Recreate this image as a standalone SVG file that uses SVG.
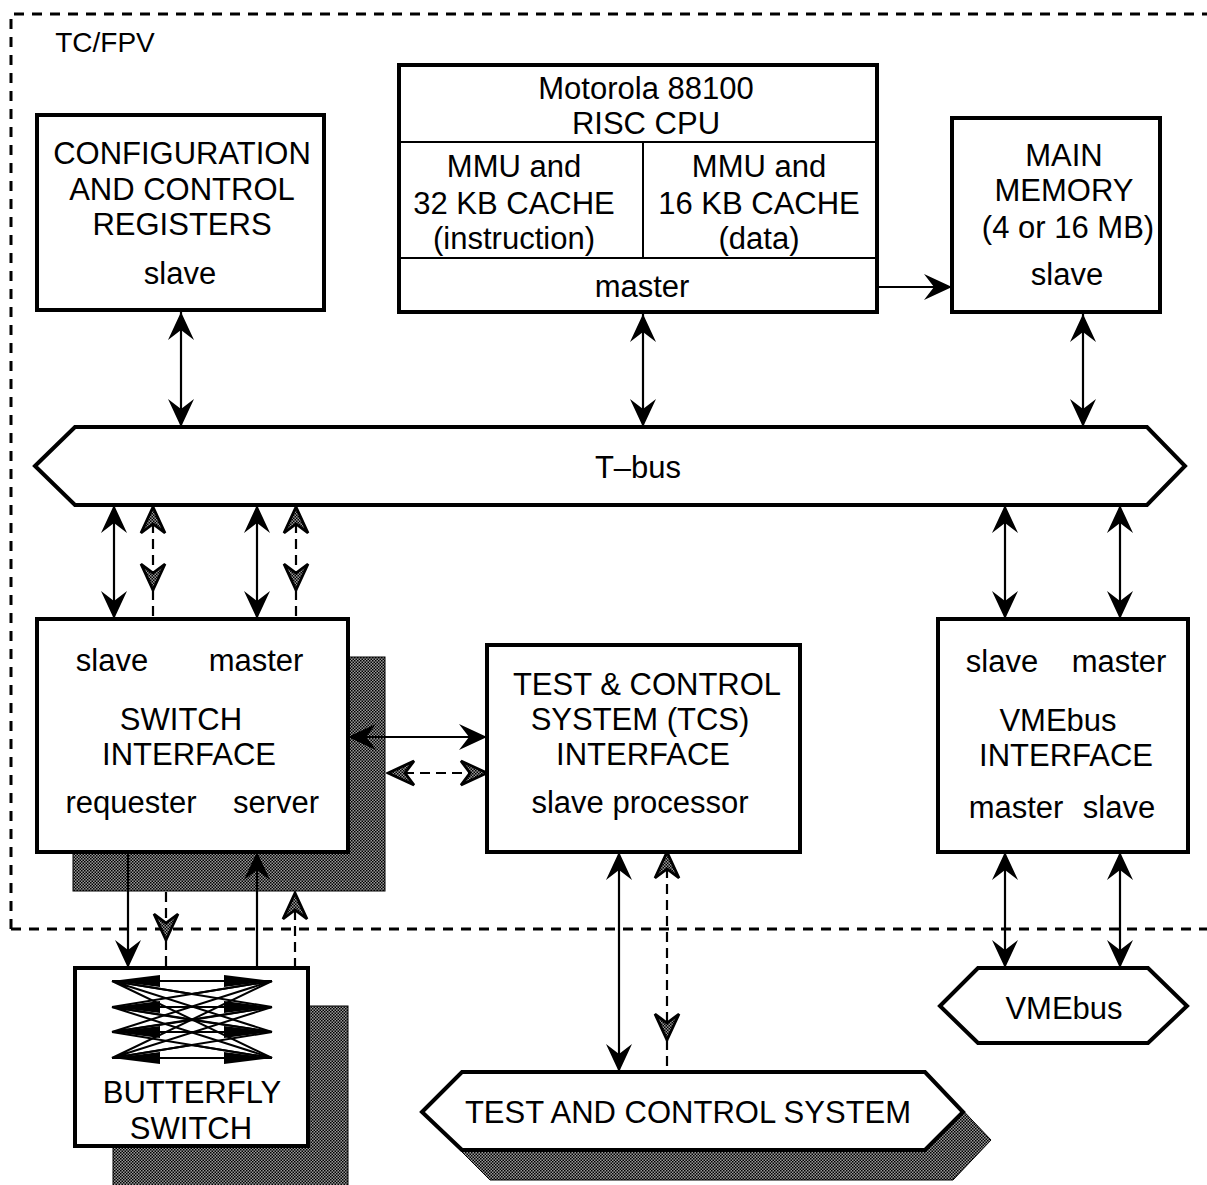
<svg xmlns="http://www.w3.org/2000/svg" width="1207" height="1185" viewBox="0 0 1207 1185">
<style>
text{font-family:"Liberation Sans",Arial,Helvetica,sans-serif;font-size:31px;fill:#000;text-anchor:middle}
.box{fill:#fff;stroke:#000;stroke-width:4}
.div{fill:none;stroke:#000;stroke-width:2}
.shadow{fill:url(#dither);stroke:#000;stroke-width:1}
.border{fill:none;stroke:#000;stroke-width:3;stroke-dasharray:10 8}
.c{fill:none;stroke:#000;stroke-width:2.2}
.d{fill:none;stroke:#000;stroke-width:2.2;stroke-dasharray:10 6}
.sa{marker-end:url(#hs)}
.da{marker-end:url(#hd)}
.sb{marker-start:url(#hs);marker-end:url(#hs)}
.db{marker-start:url(#hd);marker-end:url(#hd)}
.fly{fill:none;stroke:#000;stroke-width:2}
</style>
<defs>
<pattern id="dither" width="3" height="3" patternUnits="userSpaceOnUse">
<rect width="3" height="3" fill="#9a9a9a"/>
<rect x="0" y="0" width="1.5" height="1.5" fill="#000"/>
<rect x="1.5" y="1.5" width="1.5" height="1.5" fill="#000"/>
</pattern>
<marker id="hs" markerUnits="userSpaceOnUse" viewBox="-30 -15 32 30" refX="0" refY="0" markerWidth="32" markerHeight="30" orient="auto-start-reverse">
<path d="M0,0 L-28,-13 L-18,0 L-28,13 Z" fill="#000"/>
</marker>
<marker id="hd" markerUnits="userSpaceOnUse" viewBox="-30 -15 32 30" refX="0" refY="0" markerWidth="32" markerHeight="30" orient="auto-start-reverse">
<path d="M0,0 L-26,-12 L-17,0 L-26,12 Z" fill="url(#dither)" stroke="#000" stroke-width="2.8" stroke-linejoin="miter"/>
</marker>
</defs>

<rect width="1207" height="1185" fill="#fff"/>

<g id="tcfpv-boundary">
<path class="border" d="M11,929 L11,14 L1207,14"/>
<path class="border" d="M11,929 L1207,929"/>
<text x="105" y="52" style="font-size:28px">TC/FPV</text>
</g>

<g id="shadows">
<rect class="shadow" x="73" y="657" width="312" height="234"/>
<rect class="shadow" x="113" y="1006" width="235" height="185"/>
<polygon class="shadow" points="450,1140 490,1100 953,1100 991,1140 953,1180 490,1180"/>
</g>

<g id="connectors">
<line class="c sb" x1="181" y1="312" x2="181" y2="427"/>
<line class="c sb" x1="643" y1="314" x2="643" y2="427"/>
<line class="c sb" x1="1083" y1="314" x2="1083" y2="427"/>
<line class="c sa" x1="877" y1="287" x2="952" y2="287"/>
<line class="c sb" x1="114" y1="505" x2="114" y2="619"/>
<line class="d db" x1="153" y1="507" x2="153" y2="590"/>
<line class="d" x1="153" y1="590" x2="153" y2="619"/>
<line class="c sb" x1="257" y1="505" x2="257" y2="619"/>
<line class="d db" x1="296" y1="507" x2="296" y2="590"/>
<line class="d" x1="296" y1="590" x2="296" y2="619"/>
<line class="c sb" x1="1005" y1="505" x2="1005" y2="619"/>
<line class="c sb" x1="1120" y1="505" x2="1120" y2="619"/>
<line class="c sb" x1="348" y1="737" x2="487" y2="737"/>
<line class="d db" x1="388" y1="773" x2="487" y2="773"/>
<line class="c sa" x1="128" y1="852" x2="128" y2="968"/>
<line class="d da" x1="166" y1="892" x2="166" y2="940"/>
<line class="d" x1="166" y1="940" x2="166" y2="968"/>
<line class="c sa" x1="257" y1="968" x2="257" y2="852"/>
<line class="d da" x1="295" y1="968" x2="295" y2="893"/>
<line class="c sb" x1="619" y1="852" x2="619" y2="1072"/>
<line class="d db" x1="667" y1="852" x2="667" y2="1040"/>
<line class="d" x1="667" y1="1040" x2="667" y2="1072"/>
<line class="c sb" x1="1005" y1="852" x2="1005" y2="968"/>
<line class="c sb" x1="1120" y1="852" x2="1120" y2="968"/>
</g>

<g id="config-registers">
<rect class="box" x="37" y="115" width="287" height="195"/>
<text x="182" y="164">CONFIGURATION</text>
<text x="182" y="200">AND CONTROL</text>
<text x="182" y="235">REGISTERS</text>
<text x="180" y="284">slave</text>
</g>

<g id="cpu">
<rect class="box" x="399" y="65" width="478" height="247"/>
<line class="div" x1="399" y1="142" x2="877" y2="142"/>
<line class="div" x1="399" y1="258" x2="877" y2="258"/>
<line class="div" x1="643" y1="142" x2="643" y2="258"/>
<text x="646" y="99">Motorola 88100</text>
<text x="646" y="134">RISC CPU</text>
<text x="514" y="177">MMU and</text>
<text x="514" y="214">32 KB CACHE</text>
<text x="514" y="249">(instruction)</text>
<text x="759" y="177">MMU and</text>
<text x="759" y="214">16 KB CACHE</text>
<text x="759" y="249">(data)</text>
<text x="642" y="297">master</text>
</g>

<g id="main-memory">
<rect class="box" x="952" y="118" width="208" height="194"/>
<text x="1064" y="166">MAIN</text>
<text x="1064" y="201">MEMORY</text>
<text x="1068" y="238">(4 or 16 MB)</text>
<text x="1067" y="285">slave</text>
</g>

<g id="t-bus">
<polygon class="box" points="35,466 75,427 1147,427 1185,466 1147,505 75,505"/>
<text x="638" y="478">T–bus</text>
</g>

<g id="switch-interface">
<rect class="box" x="37" y="619" width="311" height="233"/>
<text x="112" y="671">slave</text>
<text x="256" y="671">master</text>
<text x="181" y="730">SWITCH</text>
<text x="189" y="765">INTERFACE</text>
<text x="131" y="813">requester</text>
<text x="276" y="813">server</text>
</g>

<g id="tcs-interface">
<rect class="box" x="487" y="645" width="313" height="207"/>
<text x="647" y="695">TEST &amp; CONTROL</text>
<text x="640" y="730">SYSTEM (TCS)</text>
<text x="643" y="765">INTERFACE</text>
<text x="640" y="813">slave processor</text>
</g>

<g id="vme-interface">
<rect class="box" x="938" y="619" width="250" height="233"/>
<text x="1002" y="672">slave</text>
<text x="1119" y="672">master</text>
<text x="1058" y="731">VMEbus</text>
<text x="1066" y="766">INTERFACE</text>
<text x="1016" y="818">master</text>
<text x="1119" y="818">slave</text>
</g>

<g id="vmebus">
<polygon class="box" points="940,1006 978,968 1148,968 1187,1006 1148,1043 978,1043"/>
<text x="1064" y="1019">VMEbus</text>
</g>

<g id="butterfly-switch">
<rect class="box" x="75" y="968" width="233" height="178"/>
<g class="fly">
<path d="M112,981 L272,981 M112,981 L272,1007 M112,981 L272,1032 M112,981 L272,1058"/>
<path d="M112,1007 L272,981 M112,1007 L272,1007 M112,1007 L272,1032 M112,1007 L272,1058"/>
<path d="M112,1032 L272,981 M112,1032 L272,1007 M112,1032 L272,1032 M112,1032 L272,1058"/>
<path d="M112,1058 L272,981 M112,1058 L272,1007 M112,1058 L272,1032 M112,1058 L272,1058"/>
<path d="M112,981 L192,994 L272,981 M112,1058 L192,1045 L272,1058 M112,1007 L192,1020 L272,1007 M112,1032 L192,1020 L272,1032"/>
</g>
<g fill="#000">
<polygon points="112,981 160,975 160,987"/>
<polygon points="112,1007 160,1001 160,1013"/>
<polygon points="112,1032 160,1026 160,1038"/>
<polygon points="112,1058 160,1052 160,1064"/>
<polygon points="272,981 224,975 224,987"/>
<polygon points="272,1007 224,1001 224,1013"/>
<polygon points="272,1032 224,1026 224,1038"/>
<polygon points="272,1058 224,1052 224,1064"/>
</g>
<text x="192" y="1103">BUTTERFLY</text>
<text x="191" y="1139">SWITCH</text>
</g>

<g id="test-control-system">
<polygon class="box" points="422,1112 462,1072 925,1072 963,1112 925,1150 462,1150"/>
<text x="688" y="1123">TEST AND CONTROL SYSTEM</text>
</g>
</svg>
